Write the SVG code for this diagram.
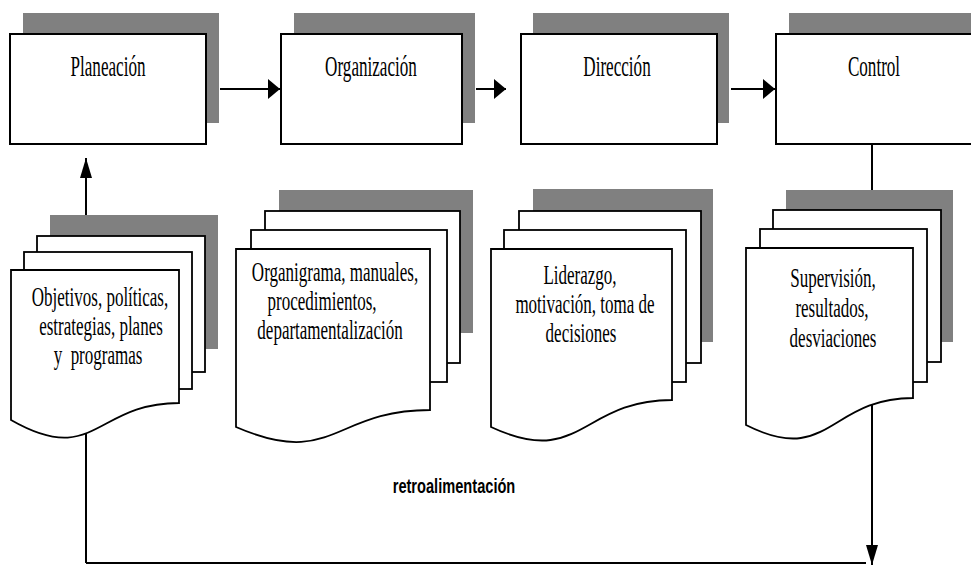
<svg xmlns="http://www.w3.org/2000/svg" width="971" height="567" viewBox="0 0 971 567">
  <defs>
    <style>
      .shadow { fill: #808080; stroke: none; }
      .box { fill: #ffffff; stroke: #000000; stroke-width: 2; }
      .page { fill: #ffffff; stroke: #000000; stroke-width: 1.8; }
      .t { font-family: "Liberation Serif", "Times New Roman", serif; font-size: 30px; fill: #000000; text-anchor: middle; }
      .d { font-family: "Liberation Serif", "Times New Roman", serif; font-size: 27px; fill: #000000; text-anchor: middle; }
      .lbl { font-family: "Liberation Sans", Arial, sans-serif; font-size: 19.5px; font-weight: bold; fill: #000000; text-anchor: middle; }
      .conn { fill: none; stroke: #000000; stroke-width: 2; }
    </style>
    <marker id="arrH" markerUnits="userSpaceOnUse" markerWidth="12" markerHeight="20" refX="12" refY="10" orient="auto">
      <path d="M0,0 L12,10 L0,20 Z" fill="#000000"/>
    </marker>
    <marker id="arrV" markerUnits="userSpaceOnUse" markerWidth="20" markerHeight="12" refX="20" refY="6" orient="auto">
      <path d="M0,0 L20,6 L0,12 Z" fill="#000000"/>
    </marker>
  </defs>

  <rect width="971" height="567" fill="#ffffff"/>

  <g id="connectors">
    <path class="conn" d="M220,89 H280" marker-end="url(#arrH)"/>
    <path class="conn" d="M476,89 H506" marker-end="url(#arrH)"/>
    <path class="conn" d="M731,89 H775" marker-end="url(#arrH)"/>
    <path class="conn" d="M86,563 V158" marker-end="url(#arrV)"/>
    <path class="conn" d="M86,563 H866" stroke-width="3"/>
    <path class="conn" d="M872,144 V565" stroke="#404040" stroke-width="1.6" marker-end="url(#arrV)"/>
    <g id="feedback-label">
      <text class="lbl" transform="translate(454,493) scale(0.75,1)">retroalimentación</text>
    </g>
  </g>

  <g id="planeacion">
    <rect class="shadow" x="23" y="13" width="196" height="110"/>
    <rect class="box" x="10" y="34" width="196" height="110"/>
    <text class="t" transform="translate(108,76) scale(0.57,1)">Planeación</text>
  </g>

  <g id="organizacion">
    <rect class="shadow" x="294" y="13" width="181" height="110"/>
    <rect class="box" x="281" y="34" width="181" height="110"/>
    <text class="t" transform="translate(371,76) scale(0.57,1)">Organización</text>
  </g>

  <g id="direccion">
    <rect class="shadow" x="533" y="13" width="196" height="110"/>
    <rect class="box" x="521" y="34" width="196" height="110"/>
    <text class="t" transform="translate(617,76) scale(0.57,1)">Dirección</text>
  </g>

  <g id="control">
    <rect class="shadow" x="789" y="13" width="196" height="110"/>
    <rect class="box" x="776" y="34" width="196" height="110"/>
    <text class="t" transform="translate(874,76) scale(0.57,1)">Control</text>
  </g>

  <g id="docs-planeacion">
    <rect class="shadow" x="50" y="215" width="168" height="134"/>
    <rect class="page" x="37" y="236" width="168" height="136"/>
    <rect class="page" x="24" y="252" width="168" height="137"/>
    <path class="page" d="M11,270 H179 V403 C95,403 95,468 11,420 Z"/>
    <text class="d" transform="translate(100,306) scale(0.63,1)">Objetivos, políticas,</text>
    <text class="d" transform="translate(101,335) scale(0.63,1)">estrategias, planes</text>
    <text class="d" transform="translate(98,364) scale(0.63,1)" xml:space="preserve">y  programas</text>
  </g>

  <g id="docs-organizacion">
    <rect class="shadow" x="279" y="190" width="194" height="143"/>
    <rect class="page" x="265" y="211" width="195" height="152"/>
    <rect class="page" x="251" y="230" width="196" height="152"/>
    <path class="page" d="M236,249 H430 V410 C333,410 333,469 236,427 Z"/>
    <text class="d" transform="translate(335,281) scale(0.63,1)">Organigrama, manuales,</text>
    <text class="d" transform="translate(322,310) scale(0.63,1)">procedimientos,</text>
    <text class="d" transform="translate(330,339) scale(0.63,1)">departamentalización</text>
  </g>

  <g id="docs-direccion">
    <rect class="shadow" x="533" y="189" width="180" height="153"/>
    <rect class="page" x="519" y="211" width="182" height="152"/>
    <rect class="page" x="504" y="230" width="182" height="152"/>
    <path class="page" d="M491,249 H672 V400 C581,400 581,469 491,427 Z"/>
    <text class="d" transform="translate(580,284) scale(0.63,1)">Liderazgo,</text>
    <text class="d" transform="translate(585,313) scale(0.63,1)">motivación, toma de</text>
    <text class="d" transform="translate(581,342) scale(0.63,1)">decisiones</text>
  </g>

  <g id="docs-control">
    <rect class="shadow" x="786" y="190" width="167" height="152"/>
    <rect class="page" x="773" y="210" width="168" height="152"/>
    <rect class="page" x="760" y="229" width="167" height="153"/>
    <path class="page" d="M746,248 H913 V398 C829,398 829,467 746,425 Z"/>
    <text class="d" transform="translate(833,287) scale(0.63,1)">Supervisión,</text>
    <text class="d" transform="translate(832,317) scale(0.63,1)">resultados,</text>
    <text class="d" transform="translate(833,347) scale(0.63,1)">desviaciones</text>
  </g>
</svg>
